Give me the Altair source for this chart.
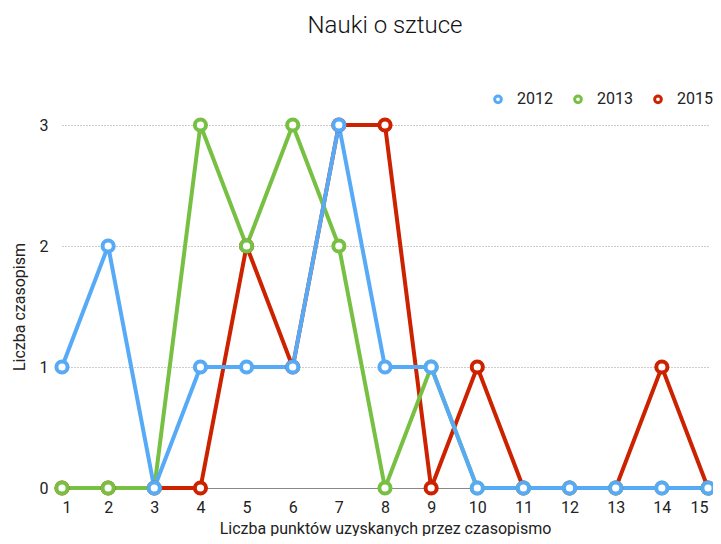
import altair as alt
import pandas as pd

points_x = list(range(1, 16))
years = ["2012", "2013", "2015"]
v2012 = [1, 2, 0, 1, 1, 1, 3, 1, 1, 0, 0, 0, 0, 0, 0]
v2013 = [0, 0, 0, 3, 2, 3, 2, 0, 1, 0, 0, 0, 0, 0, 0]
v2015 = [0, 0, 0, 0, 2, 1, 3, 3, 0, 1, 0, 0, 0, 1, 0]
colors = ["#56aaf6", "#77c043", "#cc2200"]

rows = []
for year, vals in [("2015", v2015), ("2013", v2013), ("2012", v2012)]:
    for xv, yv in zip(points_x, vals):
        rows.append({"x": xv, "y": yv, "year": year})
df = pd.DataFrame(rows)

FONT = "Roboto"

color = alt.Color(
    "year:N",
    scale=alt.Scale(domain=years, range=colors),
    legend=alt.Legend(
        title=None,
        orient="none",
        legendX=428,
        legendY=-34,
        direction="horizontal",
        symbolType="circle",
        symbolSize=45,
        symbolStrokeWidth=3,
        symbolFillColor="white",
        labelFontSize=16,
        labelFont=FONT,
        labelColor="#222",
        labelOffset=11,
        columnPadding=15,
    ),
)
x = alt.X(
    "x:Q",
    title="Liczba punktów uzyskanych przez czasopismo",
    scale=alt.Scale(domain=[1, 15], nice=False, zero=False),
    axis=alt.Axis(values=points_x, grid=False, ticks=False, domainColor="#888",
                  labelPadding=11, labelFontSize=16, titleFontSize=16,
                  titlePadding=5, titleFontWeight="normal"),
)
y = alt.Y(
    "y:Q",
    title="Liczba czasopism",
    scale=alt.Scale(domain=[0, 3], nice=False),
    axis=alt.Axis(values=[0, 1, 2, 3], grid=True, gridDash=[1, 2], gridColor="#999",
                  domain=False, ticks=False, labelPadding=14, labelFontSize=16,
                  titleFontSize=16, titlePadding=12, titleFontWeight="normal"),
)

layers = []
for year in ["2015", "2013", "2012"]:
    layers.append(
        alt.Chart(df).transform_filter(alt.datum.year == year)
        .mark_line(strokeWidth=4, clip=False)
        .encode(x=x, y=y, color=color)
    )
layers.append(
    alt.Chart(df).mark_point(shape="circle", size=125, strokeWidth=4, filled=False,
                             fill="white", fillOpacity=1, opacity=1, clip=False)
    .encode(x=x, y=y, color=color)
)

chart = alt.layer(*layers).properties(
    width=646,
    height=363,
    title=alt.TitleParams("Nauki o sztuce", fontSize=24, font=FONT, fontWeight=300,
                          color="#111", anchor="middle", offset=53),
    autosize=alt.AutoSizeParams(type="none"),
    padding={"left": 54, "top": 117, "right": 5, "bottom": 48},
).configure_view(stroke=None).configure_axis(
    labelFont=FONT, titleFont=FONT, labelColor="#222", titleColor="#222"
)

chart.save("out.html", embed_options={"renderer": "svg", "actions": False})
